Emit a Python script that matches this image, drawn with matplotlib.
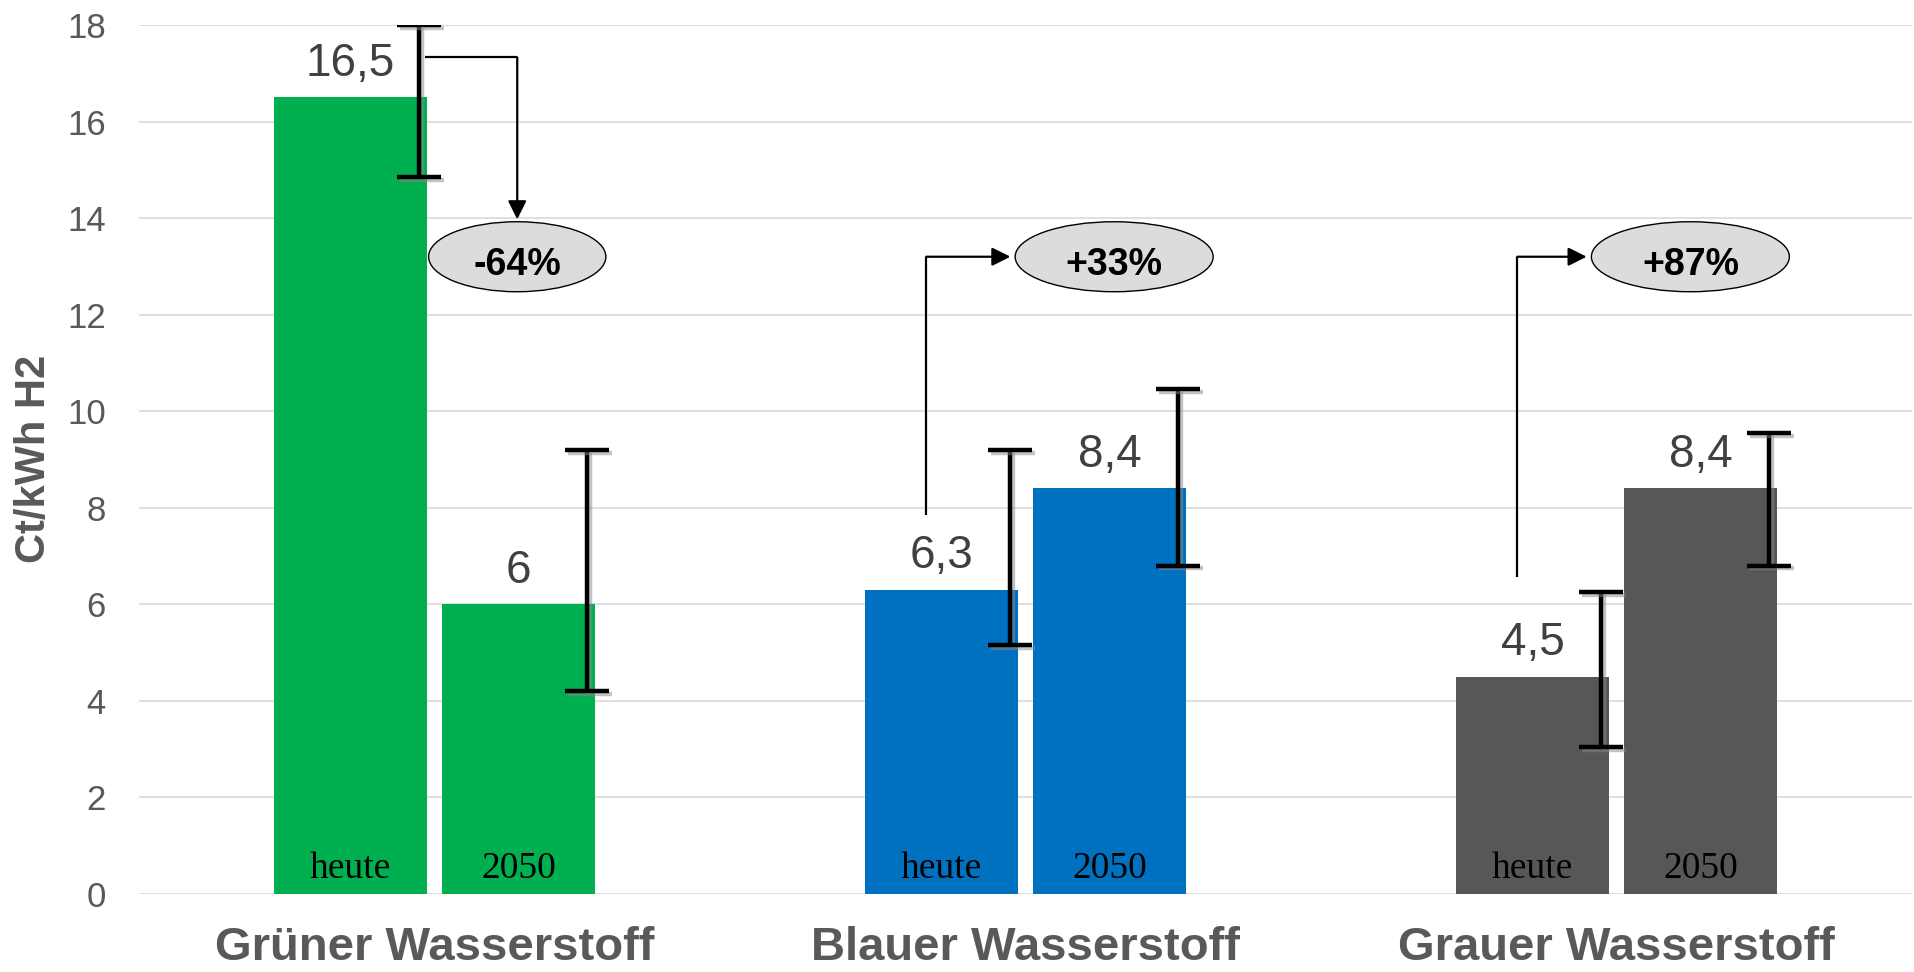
import matplotlib.pyplot as plt
import matplotlib.patheffects as pe
from matplotlib.patches import Ellipse

# Wasserstoffkosten heute vs. 2050
kategorien = ['Grüner Wasserstoff', 'Blauer Wasserstoff', 'Grauer Wasserstoff']
heute = [16.5, 6.3, 4.5]
jahr_2050 = [6.0, 8.4, 8.4]
heute_min = [14.85, 5.15, 3.05]
heute_max = [18.0, 9.2, 6.25]
min_2050 = [4.2, 6.8, 6.8]
max_2050 = [9.2, 10.45, 9.55]
veraenderung = ['-64%', '+33%', '+87%']
farben = ['#00B050', '#0070C0', '#575757']

breite = 0.26
versatz = 0.142
fehler_versatz = 0.116

fig = plt.figure(figsize=(19.14, 9.72), dpi=100)
ax = fig.add_axes([139 / 1914, 78 / 972, 1773 / 1914, 869 / 972])

x = list(range(len(kategorien)))
x_heute = [i - versatz for i in x]
x_2050 = [i + versatz for i in x]

ax.bar(x_heute, heute, width=breite, color=farben, zorder=2)
ax.bar(x_2050, jahr_2050, width=breite, color=farben, zorder=2)

# Fehlerbalken (Spannweite), leicht nach rechts versetzt
schatten = [pe.SimpleLineShadow(offset=(2, -2), shadow_color='#888888', alpha=0.5), pe.Normal()]
for xs, werte, lo, hi in [(x_heute, heute, heute_min, heute_max), (x_2050, jahr_2050, min_2050, max_2050)]:
    xe = [xi + fehler_versatz for xi in xs]
    mitte = [(a + b) / 2 for a, b in zip(lo, hi)]
    err = [[m - a for m, a in zip(mitte, lo)], [b - m for m, b in zip(mitte, hi)]]
    cont = ax.errorbar(xe, mitte, yerr=err, fmt='none', ecolor='black',
                       elinewidth=3.2, capsize=16, capthick=3.2, zorder=4)
    for l in cont.lines[1]:
        l.set_path_effects(schatten)
    for c in cont.lines[2]:
        c.set_path_effects(schatten)

# Werte über den Balken
for xs, werte in [(x_heute, heute), (x_2050, jahr_2050)]:
    for xi, v in zip(xs, werte):
        ax.text(xi, v + 0.45, f'{v:g}'.replace('.', ','), ha='center', va='baseline',
                fontsize=33, color='#404040', family='Liberation Sans', zorder=5)

# Beschriftung in den Balken
for xi in x_heute:
    ax.text(xi, 0.33, 'heute', ha='center', va='baseline', fontsize=27,
            family='Liberation Serif', color='black', zorder=5)
for xi in x_2050:
    ax.text(xi, 0.33, '2050', ha='center', va='baseline', fontsize=27,
            family='Liberation Serif', color='black', zorder=5)

# Ellipsen mit prozentualer Veränderung und Pfeile
ell_y = 13.2
ell_h = 1.45
ell_w = [0.30, 0.335, 0.335]
ell_dx = [0.14, 0.15, 0.125]
pfeil_start = [17.33, 7.85, 6.57]
pfeil = dict(arrowstyle='-|>', color='black', lw=1.6, mutation_scale=28,
             shrinkA=0, shrinkB=0)
for i in x:
    ex = i + ell_dx[i]
    ax.add_patch(Ellipse((ex, ell_y), ell_w[i], ell_h, facecolor='#DCDCDC',
                         edgecolor='black', lw=1.0, zorder=5))
    ax.text(ex, ell_y - 0.18, veraenderung[i], ha='center', va='center', fontsize=27,
            fontweight='bold', family='Liberation Sans', color='black', zorder=6)
    if jahr_2050[i] < heute[i]:
        x0 = x_heute[i] + fehler_versatz + 0.01
        ax.plot([x0, ex], [pfeil_start[i], pfeil_start[i]], color='black', lw=1.6, zorder=3,
                solid_capstyle='butt')
        ax.annotate('', xy=(ex, ell_y + ell_h / 2 + 0.05), xytext=(ex, pfeil_start[i]),
                    arrowprops=pfeil, zorder=3)
    else:
        xv = x_heute[i] - 0.026
        ax.plot([xv, xv], [pfeil_start[i], ell_y], color='black', lw=1.6, zorder=3,
                solid_capstyle='butt')
        ax.annotate('', xy=(ex - ell_w[i] / 2 - 0.008, ell_y), xytext=(xv, ell_y),
                    arrowprops=pfeil, zorder=3)

ax.set_xlim(-0.5, 2.5)
ax.set_ylim(0, 18)
ax.set_yticks(range(0, 19, 2))
ax.set_yticklabels([str(t) for t in range(0, 19, 2)], fontsize=25, color='#595959',
                   family='Liberation Sans')
ax.tick_params(axis='y', length=0, pad=24)
ax.set_xticks([])
ax.grid(axis='y', color='#D9D9D9', lw=1.2, zorder=0)
ax.set_axisbelow(True)
for s in ax.spines.values():
    s.set_visible(False)

for i, k in enumerate(kategorien):
    ax.text(i, -0.076, k, transform=ax.get_xaxis_transform(), ha='center', va='baseline',
            fontsize=34, fontweight='bold', color='#595959', family='Liberation Sans')

fig.text(34 / 1914, 1 - 459 / 972, 'Ct/kWh H2', rotation=90, ha='center', va='center',
         fontsize=30, fontweight='bold', color='#595959', family='Liberation Sans')

fig.savefig('out.png', dpi=100)
